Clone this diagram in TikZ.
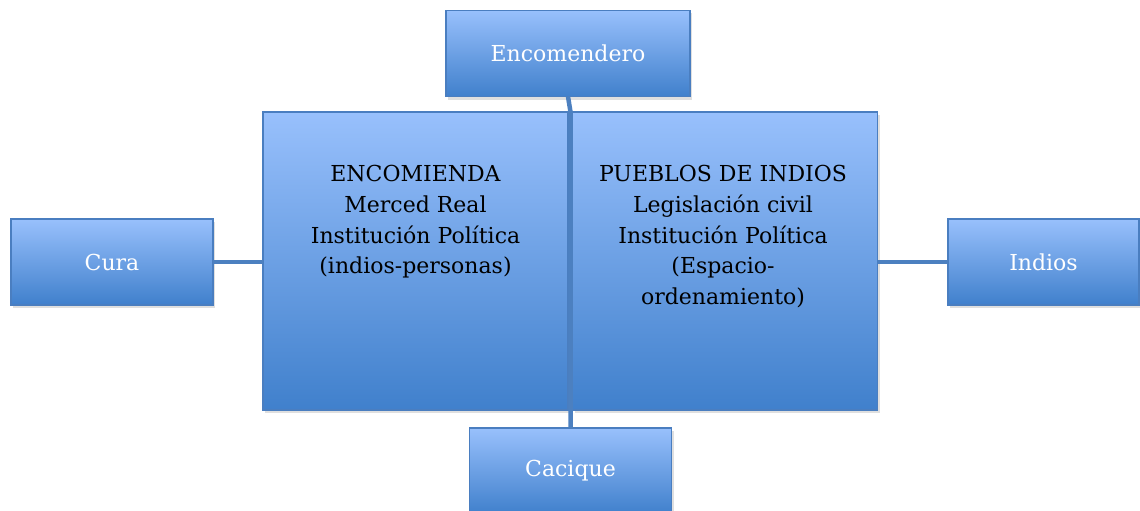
\documentclass[tikz,border=0pt]{standalone}
\usepackage{fontspec}
\setmainfont{DejaVu Serif}
\usepackage{tikz}
\usetikzlibrary{shadows}
\definecolor{BoxTop}{RGB}{152,192,252}
\definecolor{BoxBottom}{RGB}{64,128,204}
\definecolor{BoxLine}{RGB}{74,126,192}
\definecolor{LinkBlue}{RGB}{76,128,192}

\begin{document}
\begin{tikzpicture}[x=1pt,y=-1pt,
    box/.style={draw=BoxLine,line width=1.2pt,top color=BoxTop,bottom color=BoxBottom,inner sep=0pt,outer sep=0pt,drop shadow={opacity=0.25,shadow xshift=2pt,shadow yshift=-3pt}},
    smallbox/.style={box,minimum width=202pt,minimum height=86pt,text=white,font=\fontsize{22}{26}\selectfont},
    bigbox/.style={box,minimum width=305pt,minimum height=298pt},
    bigtext/.style={align=center,anchor=north,inner sep=0pt,font=\fontsize{22}{30.8}\selectfont},
    link/.style={draw=LinkBlue,line width=4.5pt}]
    \useasboundingbox (0,0) rectangle (1140,511);
    \node[smallbox,minimum width=244pt] (enc) at (568,53.5) {Encomendero};
    \node[bigbox] (encom) at (415.5,261) {};
    \node[bigbox] (pueblos) at (725,261) {};
    \node[smallbox] (cura) at (112,262) {Cura};
    \node[smallbox,minimum width=191pt] (indios) at (1043.5,262) {Indios};
    \node[smallbox] (cac) at (570.5,471) {Cacique};
    \node[bigtext] (encomtext) at (415.5,165) {ENCOMIENDA\\Merced Real\\Institución Política\\(indios-personas)};
    \node[bigtext] (pueblostext) at (723,165) {PUEBLOS DE INDIOS\\Legislación civil\\Institución Política\\(Espacio-\\ordenamiento)};
    \draw[link] (cura.east) -- (cura.east -| encom.west);
    \draw[link] (indios.west) -- (indios.west -| pueblos.east);
    \draw[link] (enc.south) -- (cac.north |- encom.north) -- (cac.north);
\end{tikzpicture}
\end{document}
